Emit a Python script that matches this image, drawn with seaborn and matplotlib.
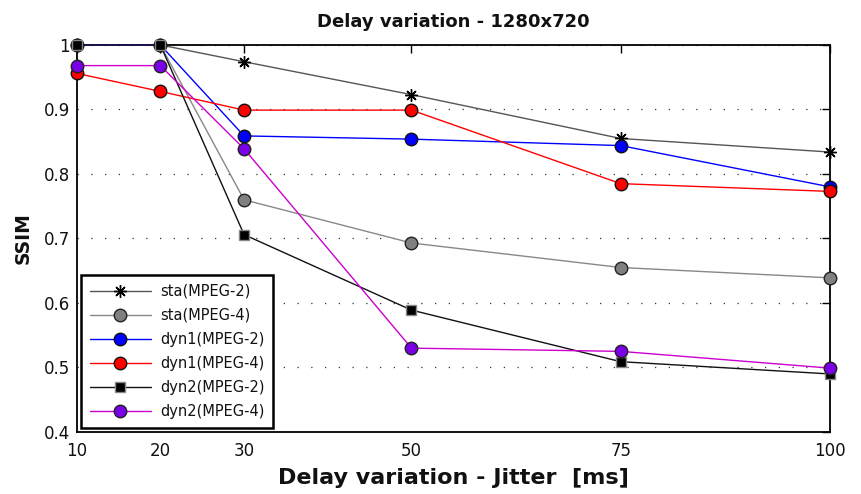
import matplotlib
matplotlib.use("Agg")
import matplotlib.pyplot as plt
import seaborn as sns
import pandas as pd

# Jitter values (ms) and SSIM per scheme
jitter = [10, 20, 30, 50, 75, 100]
sta_mpeg2 = [1.0, 1.0, 0.974, 0.923, 0.855, 0.834]
sta_mpeg4 = [1.0, 1.0, 0.760, 0.693, 0.655, 0.639]
dyn1_mpeg2 = [1.0, 1.0, 0.859, 0.854, 0.844, 0.780]
dyn1_mpeg4 = [0.956, 0.928, 0.899, 0.899, 0.785, 0.773]
dyn2_mpeg2 = [1.0, 1.0, 0.706, 0.589, 0.509, 0.490]
dyn2_mpeg4 = [0.968, 0.968, 0.839, 0.530, 0.525, 0.499]

series_names = ["sta(MPEG-2)", "sta(MPEG-4)", "dyn1(MPEG-2)",
                "dyn1(MPEG-4)", "dyn2(MPEG-2)", "dyn2(MPEG-4)"]
series_values = [sta_mpeg2, sta_mpeg4, dyn1_mpeg2, dyn1_mpeg4, dyn2_mpeg2, dyn2_mpeg4]

x_ticks = [10, 20, 30, 50, 75, 100]
y_ticks = [0.4, 0.5, 0.6, 0.7, 0.8, 0.9, 1.0]
y_tick_labels = ["0.4", "0.5", "0.6", "0.7", "0.8", "0.9", "1"]

df = pd.DataFrame({
    "jitter": jitter * len(series_names),
    "ssim": [v for vals in series_values for v in vals],
    "scheme": [n for n in series_names for _ in jitter],
})

sns.set_theme(style="white")
plt.rcParams["font.family"] = ["DejaVu Sans"]
plt.rcParams["text.color"] = "#111111"

# line colour, marker, marker face, marker edge, marker size
styles = {
    "sta(MPEG-2)": dict(color="#555555", marker=(8, 2, 0), mfc="black", mec="black", ms=9),
    "sta(MPEG-4)": dict(color="#888888", marker="o", mfc="#808080", mec="#222222", ms=9),
    "dyn1(MPEG-2)": dict(color="#0000ff", marker="o", mfc="#0000ff", mec="#111111", ms=9),
    "dyn1(MPEG-4)": dict(color="#ff0000", marker="o", mfc="#ff0000", mec="#111111", ms=9),
    "dyn2(MPEG-2)": dict(color="#111111", marker="s", mfc="black", mec="#888888", ms=7.5),
    "dyn2(MPEG-4)": dict(color="#cc00cc", marker="o", mfc="#7a00e6", mec="#222222", ms=9),
}

fig = plt.figure(figsize=(8.61, 4.94), dpi=100)
ax = fig.add_axes([0.089, 0.1255, 0.875, 0.7835])

for name in series_names:
    st = styles[name]
    sub = df[df["scheme"] == name]
    sns.lineplot(data=sub, x="jitter", y="ssim", ax=ax, label=name,
                 color=st["color"], marker=st["marker"],
                 markerfacecolor=st["mfc"], markeredgecolor=st["mec"],
                 markersize=st["ms"], markeredgewidth=1.0, linewidth=1.0,
                 clip_on=False, zorder=3)

ax.set_xlim(10, 100)
ax.set_ylim(0.4, 1.0)
ax.set_xticks(x_ticks)
ax.set_xticklabels([str(t) for t in x_ticks])
ax.set_yticks(y_ticks)
ax.set_yticklabels(y_tick_labels)

ax.yaxis.grid(True, linestyle=(0, (1, 10)), color="#333333", linewidth=0.9)
ax.xaxis.grid(False)

for sp in ax.spines.values():
    sp.set_color("black")
    sp.set_linewidth(1.3)

ax.tick_params(axis="both", which="major", direction="in", length=6, width=1,
               color="black", labelsize=12, labelcolor="#111111",
               top=True, right=True)
ax.tick_params(axis="x", pad=7)
ax.tick_params(axis="y", pad=5)

ax.set_title("Delay variation - 1280x720", fontsize=13, fontweight="bold",
             color="#111111", pad=13)
ax.set_xlabel("Delay variation - Jitter  [ms]", fontsize=16, fontweight="bold",
              color="#111111", labelpad=6)
ax.set_ylabel("SSIM", fontsize=13.5, fontweight="bold", color="#111111", labelpad=8)

leg = ax.legend(loc="lower left", bbox_to_anchor=(0.0, 0.0), fontsize=10.5,
                frameon=True, fancybox=False, handlelength=4.2,
                labelspacing=0.62, borderpad=0.6, handletextpad=0.6,
                borderaxespad=0.3, labelcolor="#111111")
leg.get_frame().set_edgecolor("black")
leg.get_frame().set_linewidth(1.8)
leg.get_frame().set_alpha(1)
leg.set_zorder(5)

fig.savefig("out.png", dpi=100)
